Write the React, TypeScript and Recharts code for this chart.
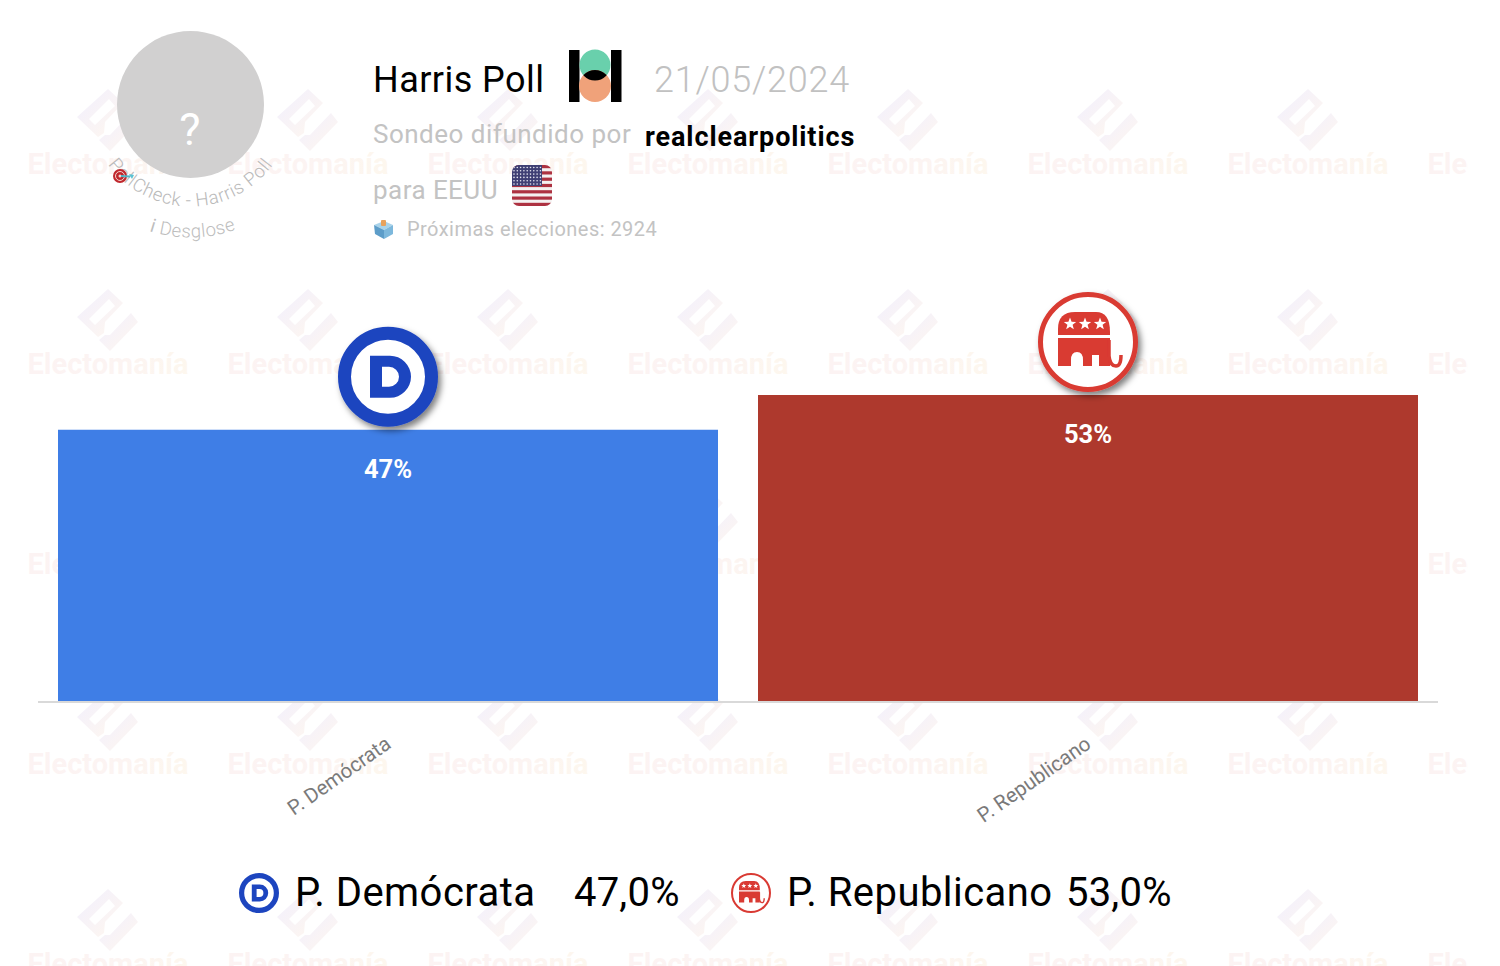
import React from "react";
import { BarChart, Bar, XAxis, YAxis, Cell, LabelList } from "recharts";

const parties = ["P. Demócrata", "P. Republicano"];
const shares = [47, 53];
const barColors = ["#3f7ee6", "#ae392d"];
const logoColors = ["#1d45bf", "#d93a33"];

const pollster = "Harris Poll";
const pollDate = "21/05/2024";
const source = "realclearpolitics";
const nextElection = "Próximas elecciones: 2924";

const chartData = parties.map((name, i) => ({ name, value: shares[i] }));
const font = "Roboto, sans-serif";

const wmCols = [108, 308, 508, 708, 908, 1108, 1308, 1508];
const wmRows = [89, 289, 489, 689, 889];

function Watermark() {
    return (
        <svg width={1500} height={966} style={{ position: "absolute", left: 0, top: 0 }}>
            <defs>
                <linearGradient id="wmMark" x1="0" y1="0" x2="1" y2="1">
                    <stop offset="20%" stopColor="#f4f1fb" />
                    <stop offset="85%" stopColor="#fdf6f1" />
                </linearGradient>
                <linearGradient id="wmText" x1="0" y1="0" x2="1" y2="0">
                    <stop offset="0%" stopColor="#fcf3f3" />
                    <stop offset="60%" stopColor="#fcf4f2" />
                    <stop offset="100%" stopColor="#fdf7ee" />
                </linearGradient>
                <clipPath id="wmClip">
                    <rect x={0} y={0} width={1468} height={966} />
                </clipPath>
            </defs>
            <g clipPath="url(#wmClip)">
                {wmRows.map((y) =>
                    wmCols.map((x) => (
                        <g key={`${x}-${y}`} transform={`translate(${x},${y})`}>
                            <path
                                d="M0,0 L15,14 L-3,33 L-4,44 L-10,48 L-31,28 Z M-19,30 L-13,36 L7,17 L1,10 Z"
                                fill="url(#wmMark)"
                                fillRule="evenodd"
                            />
                            <path d="M-9,51 L2,62 L30,33 L23,24 L2,46 L-3,46 Z" fill="url(#wmMark)" />
                            <text
                                x={0}
                                y={85}
                                textAnchor="middle"
                                fontFamily={font}
                                fontWeight={700}
                                fontSize={29}
                                fill="url(#wmText)"
                            >
                                Electomanía
                            </text>
                        </g>
                    ))
                )}
            </g>
        </svg>
    );
}

function DemLogo({ cx, cy, scale = 1 }: { cx: number; cy: number; scale?: number }) {
    return (
        <g transform={`translate(${cx},${cy}) scale(${scale})`}>
            <circle r={43.5} fill="#fff" stroke={logoColors[0]} strokeWidth={13} />
            <path
                d="M-18,-21 H2 A21,21 0 0 1 2,21 H-18 Z M-6,-10 V10 H1 A10,10 0 0 0 1,-10 Z"
                fill={logoColors[0]}
                fillRule="evenodd"
            />
        </g>
    );
}

function star(cx: number, cy: number, r: number) {
    const pts = [];
    for (let i = 0; i < 10; i++) {
        const a = -Math.PI / 2 + (i * Math.PI) / 5;
        const rr = i % 2 === 0 ? r : r * 0.42;
        pts.push(`${cx + rr * Math.cos(a)},${cy + rr * Math.sin(a)}`);
    }
    return pts.join(" ");
}

function RepLogo({ cx, cy, scale = 1 }: { cx: number; cy: number; scale?: number }) {
    const c = logoColors[1];
    return (
        <g transform={`translate(${cx},${cy}) scale(${scale})`}>
            <circle r={47.5} fill="#fff" stroke={c} strokeWidth={5} />
            <path d="M-30,-7 V-13 Q-30,-30 -13,-30 H8 Q22,-30 22,-10 V-7 Z" fill={c} />
            <path
                d="M-30,-4 H22 V24 H11 V13 H4 V24 H-5 V18 Q-5,10 -11,10 Q-17,10 -17,18 V24 H-30 Z"
                fill={c}
            />
            <path d="M21,-2 V14 Q22,24 28,24 Q33,24 33,13" fill="none" stroke={c} strokeWidth={3.5} />
            <polygon points={star(-18, -18, 6.5)} fill="#fff" />
            <polygon points={star(-3, -18, 6.5)} fill="#fff" />
            <polygon points={star(12, -18, 6.5)} fill="#fff" />
        </g>
    );
}

function Flag() {
    const stripes = [0, 1, 2, 3, 4, 5, 6];
    const rows = [0, 1, 2, 3, 4, 5];
    const cols = [0, 1, 2, 3, 4, 5, 6, 7, 8];
    return (
        <g>
            <defs>
                <clipPath id="flagClip">
                    <rect x={512} y={165} width={40} height={41} rx={7} />
                </clipPath>
            </defs>
            <g clipPath="url(#flagClip)">
                <rect x={512} y={165} width={40} height={41} fill="#f4f1f1" />
                {stripes.map((s) => (
                    <rect key={s} x={512} y={165 + s * 6.3} width={40} height={3.2} fill="#ad3241" />
                ))}
                <rect x={512} y={165} width={30} height={21} fill="#3f3f74" />
                {rows.map((r) =>
                    cols.map((k) => (
                        <circle key={`${r}-${k}`} cx={514 + k * 3.3} cy={167.5 + r * 3.3} r={0.8} fill="#e8e8f2" />
                    ))
                )}
            </g>
        </g>
    );
}

function Header() {
    return (
        <svg width={1500} height={966} style={{ position: "absolute", left: 0, top: 0 }} fontFamily={font}>
            <defs>
                <path id="arcOuter" d="M88.5,104.5 A102,102 0 0 0 292.5,104.5" />
                <path id="arcInner" d="M57.5,104.5 A133,133 0 0 0 323.5,104.5" />
                <clipPath id="greenClip">
                    <circle cx={595} cy={65} r={15.5} />
                </clipPath>
            </defs>

            <circle cx={190.5} cy={104.5} r={73.5} fill="#d1d0d0" />
            <text x={190} y={145} textAnchor="middle" fontSize={45} fill="#fff" fontWeight={400}>
                ?
            </text>
            <text fontSize={18.5} fill="#bababa" fontWeight={300} letterSpacing={0.6}>
                <textPath href="#arcOuter" startOffset="50%" textAnchor="middle">
                    PollCheck - Harris Poll
                </textPath>
            </text>
            <text fontSize={18.5} fill="#bdbdbd" fontWeight={300} letterSpacing={0.5}>
                <textPath href="#arcInner" startOffset="50.5%" textAnchor="middle">
                    ℹ Desglose
                </textPath>
            </text>
            <circle cx={120} cy={176} r={7} fill="#c0272d" />
            <circle cx={120} cy={176} r={4.5} fill="none" stroke="#f3d6d0" strokeWidth={1} />
            <circle cx={120} cy={176} r={1.5} fill="#f3d6d0" />
            <path d="M121,176 L130,176.5" stroke="#4fb3c4" strokeWidth={2} />
            <path d="M129,174 L134,175 L132,179 Z" fill="#5cc3d3" />

            <text x={373} y={92} fontSize={36} fill="#000" fontWeight={400} letterSpacing={0.45}>
                {pollster}
            </text>
            <rect x={569} y={50} width={10.5} height={52} fill="#000" />
            <rect x={611} y={50} width={10.5} height={52} fill="#000" />
            <circle cx={595} cy={65} r={15.5} fill="#69d0ac" />
            <circle cx={595} cy={86} r={16} fill="#f0a27a" />
            <circle cx={595} cy={86} r={16} fill="#000" clipPath="url(#greenClip)" />
            <text x={654} y={92} fontSize={36} fill="#c1c1c1" fontWeight={300} letterSpacing={0.75}>
                {pollDate}
            </text>

            <text x={373} y={143} fontSize={26} fill="#c3c3c3" fontWeight={400} letterSpacing={0.5}>
                Sondeo difundido por
            </text>
            <text x={645} y={146} fontSize={27} fill="#000" fontWeight={700} letterSpacing={0.9}>
                {source}
            </text>
            <text x={373} y={199} fontSize={26} fill="#c3c3c3" fontWeight={400} letterSpacing={0.45}>
                para EEUU
            </text>
            <Flag />

            <path d="M374,225 L384,221 L393,225 L384,230 Z" fill="#a9d3ea" />
            <path d="M374,225 L384,230 V239 L375,234 Z" fill="#5d9dc9" />
            <path d="M393,225 L384,230 V239 L393,234 Z" fill="#7db8dc" />
            <rect x={381} y={220} width={5} height={6} rx={1} fill="#e8a25c" />
            <text x={407} y={236} fontSize={20} fill="#c3c3c3" letterSpacing={0.45}>
                {nextElection}
            </text>

            <DemLogo cx={259} cy={893} scale={0.4} />
            <RepLogo cx={751} cy={893} scale={0.4} />
            <text x={295} y={906} fontSize={40} fill="#000" fontWeight={400} letterSpacing={0.45}>
                {parties[0]}
            </text>
            <text x={574} y={906} fontSize={40} fill="#000" fontWeight={400} letterSpacing={0.2}>
                {shares[0].toFixed(1).replace(".", ",")}%
            </text>
            <text x={787} y={906} fontSize={40} fill="#000" fontWeight={400} letterSpacing={0.45}>
                {parties[1]}
            </text>
            <text x={1066} y={906} fontSize={40} fill="#000" fontWeight={400} letterSpacing={0.2}>
                {shares[1].toFixed(1).replace(".", ",")}%
            </text>
        </svg>
    );
}

// logo sits on top of each bar, follows the bar's own position
function BarLogo(props: any) {
    const { x, y, width, index } = props;
    const cx = x + width / 2;
    const Logo = index === 0 ? DemLogo : RepLogo;
    return (
        <g filter="url(#logoShadow)">
            <Logo cx={cx} cy={y - 53} />
        </g>
    );
}

export default function App() {
    return (
        <div style={{ position: "absolute", left: 0, top: 0, width: 1500, height: 966, background: "#fff", overflow: "hidden" }}>
            <Watermark />
            <div style={{ position: "absolute", left: 0, top: 0 }}>
                <BarChart
                    width={1500}
                    height={966}
                    data={chartData}
                    margin={{ top: 395, right: 62, bottom: 0, left: 38 }}
                    style={{ fontFamily: font }}
                >
                    <defs>
                        <filter id="logoShadow" x="-30%" y="-30%" width="160%" height="160%">
                            <feDropShadow dx={3} dy={4} stdDeviation={3} floodColor="#000" floodOpacity={0.5} />
                        </filter>
                    </defs>
                    <XAxis
                        dataKey="name"
                        height={264}
                        interval={0}
                        tickLine={false}
                        axisLine={{ stroke: "#d9d9d9", strokeWidth: 2 }}
                        angle={-35}
                        textAnchor="end"
                        tickMargin={27}
                        tick={{ fontSize: 20.5, fill: "#7a7a7a", dx: -4 }}
                    />
                    <YAxis hide domain={[0, 53]} />
                    <Bar dataKey="value" barSize={660} isAnimationActive={false}>
                        {chartData.map((d, i) => (
                            <Cell key={d.name} fill={barColors[i]} />
                        ))}
                        <LabelList
                            dataKey="value"
                            position="insideTop"
                            offset={30}
                            formatter={(v: any) => `${v}%`}
                            fill="#fff"
                            fontSize={25.5}
                            fontWeight={700}
                        />
                        <LabelList dataKey="value" content={BarLogo} />
                    </Bar>
                </BarChart>
            </div>
            <Header />
        </div>
    );
}
